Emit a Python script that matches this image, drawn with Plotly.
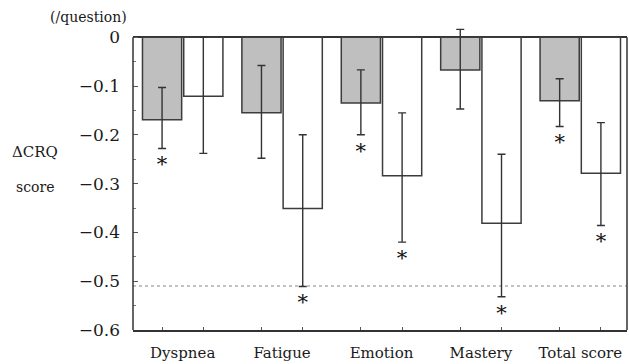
import plotly.graph_objects as go

categories = ["Dyspnea", "Fatigue", "Emotion", "Mastery", "Total score"]
group_a = [-0.169, -0.155, -0.135, -0.067, -0.130]
group_a_err_plus = [0.066, 0.097, 0.068, 0.083, 0.045]
group_a_err_minus = [0.059, 0.093, 0.065, 0.080, 0.053]
group_a_sig = [True, False, True, False, True]
group_b = [-0.121, -0.351, -0.284, -0.381, -0.279]
group_b_err_plus = [0.121, 0.151, 0.129, 0.141, 0.104]
group_b_err_minus = [0.117, 0.160, 0.136, 0.151, 0.107]
group_b_sig = [False, True, True, True, True]
y_tick_vals = [0, -0.1, -0.2, -0.3, -0.4, -0.5, -0.6]
y_tick_text = ["0", "\u22120.1", "\u22120.2", "\u22120.3", "\u22120.4", "\u22120.5", "\u22120.6"]
ref_line = -0.51

FONT = "DejaVu Serif"
bargap = 0.17
bargroupgap = 0.05
off = (1 - bargap) / 4  # centre offset of each bar within group
star_gap = 0.036
y_min, y_top = -0.6, 0.0
headroom = 0.025  # space above zero so error caps may poke out

x = list(range(len(categories)))

fig = go.Figure()
fig.add_trace(go.Bar(
    x=x, y=group_a, marker=dict(color="#bfbfbf", line=dict(color="#3c3c3c", width=1.5)),
    error_y=dict(type="data", symmetric=False, array=group_a_err_plus, arrayminus=group_a_err_minus,
                 color="#333333", thickness=1.4, width=4),
    showlegend=False))
fig.add_trace(go.Bar(
    x=x, y=group_b, marker=dict(color="white", line=dict(color="#3c3c3c", width=1.5)),
    error_y=dict(type="data", symmetric=False, array=group_b_err_plus, arrayminus=group_b_err_minus,
                 color="#333333", thickness=1.4, width=4),
    showlegend=False))

# significance asterisks below lower error bar ends
sx, sy = [], []
for i in x:
    if group_a_sig[i]:
        sx.append(i - off); sy.append(group_a[i] - group_a_err_minus[i] - star_gap)
    if group_b_sig[i]:
        sx.append(i + off); sy.append(group_b[i] - group_b_err_minus[i] - star_gap)
fig.add_trace(go.Scatter(x=sx, y=sy, mode="text", text=["*"] * len(sx),
                         textposition="middle center", textfont=dict(family=FONT, size=21, color="#111111"),
                         showlegend=False, cliponaxis=False, hoverinfo="skip"))

fig.add_shape(type="line", xref="paper", x0=0, x1=1, yref="y", y0=ref_line, y1=ref_line,
              line=dict(color="#b0b0b0", width=1.5, dash="dot"), layer="below")
# right frame line, from the bottom up to zero
fig.add_shape(type="line", xref="paper", x0=1, x1=1, yref="y", y0=y_min, y1=y_top,
              line=dict(color="#333", width=1.5))

fig.update_layout(
    width=629, height=364,
    margin=dict(l=133, r=2, t=25, b=32),
    paper_bgcolor="white", plot_bgcolor="white",
    barmode="group", bargap=bargap, bargroupgap=bargroupgap,
    font=dict(family=FONT, color="#222", size=15),
    xaxis=dict(range=[-0.5, 4.47], tickvals=x, ticktext=categories, ticks="", showgrid=False,
               zeroline=False, showline=True, linecolor="#333", linewidth=1.5, mirror=False,
               tickfont=dict(family=FONT, size=15, color="#1a1a1a"), ticklabelstandoff=8,
               minor=dict(tickvals=[i + s * off for i in x for s in (-1, 1)], ticks="inside",
                          ticklen=3, tickcolor="#555")),
    yaxis=dict(range=[y_min, y_top + headroom], tickvals=y_tick_vals, ticktext=y_tick_text, ticks="inside",
               ticklen=5, tickcolor="#555", showgrid=False, zeroline=True, zerolinecolor="#333",
               zerolinewidth=1.5, showline=False,
               tickfont=dict(family=FONT, size=17, color="#1a1a1a"), ticklabelstandoff=12,
               minor=dict(tickvals=[-0.05 - 0.1 * k for k in range(6)], ticks="inside",
                          ticklen=3, tickcolor="#777")),
    annotations=[
        dict(text="(/question)", xref="paper", yref="paper", x=-0.091, y=1.026,
             xanchor="center", yanchor="middle", showarrow=False,
             font=dict(family=FONT, size=14, color="#1a1a1a")),
        dict(text="\u0394CRQ", xref="paper", yref="paper", x=-0.198, y=0.583,
             xanchor="center", yanchor="middle", showarrow=False,
             font=dict(family=FONT, size=15, color="#1a1a1a")),
        dict(text="score", xref="paper", yref="paper", x=-0.198, y=0.469,
             xanchor="center", yanchor="middle", showarrow=False,
             font=dict(family=FONT, size=14, color="#1a1a1a")),
    ],
)
# left frame line, from the bottom up to zero
fig.add_shape(type="line", xref="paper", x0=0, x1=0, yref="y", y0=y_min, y1=y_top,
              line=dict(color="#333", width=1.5))

fig.write_html("out.html", config={"displayModeBar": False},
               post_script="document.body.style.margin='0';document.body.style.padding='0';")
